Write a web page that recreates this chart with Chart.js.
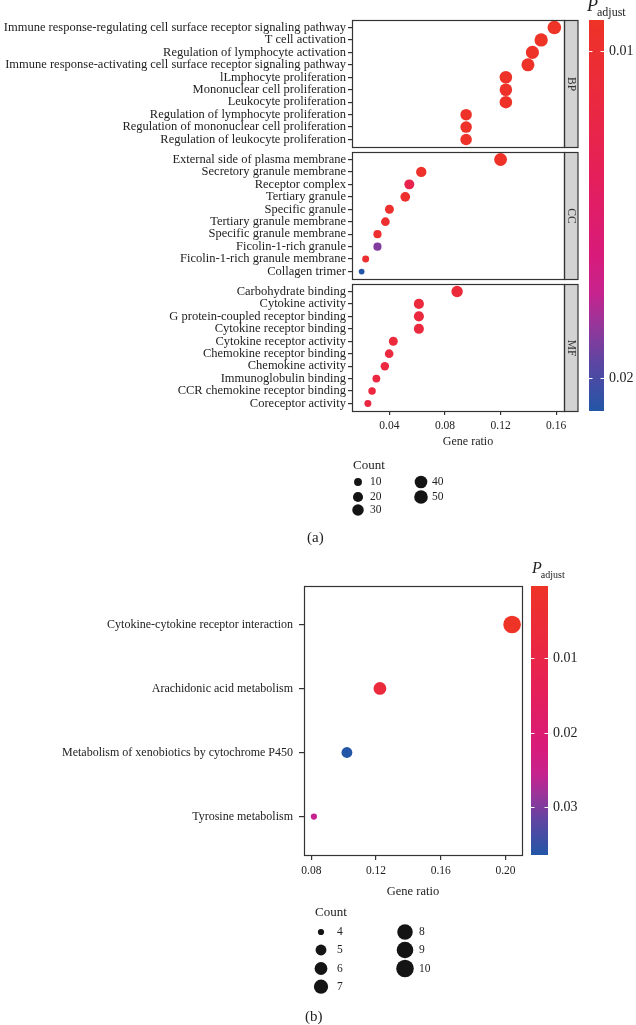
<!DOCTYPE html>
<html>
<head>
<meta charset="utf-8">
<script src="https://cdn.jsdelivr.net/npm/chart.js@4.4.0/dist/chart.umd.min.js"></script>
<style>
  body { margin: 0; background: #fff; }
  .wrap { position: relative; width: 636px; height: 1025px; overflow: hidden; }
  .panel { position: absolute; left: 0; width: 636px; }
</style>
</head>
<body>
<div class="wrap">
  <div class="panel" style="top:0;height:560px"><canvas id="chartA"></canvas></div>
  <div class="panel" style="top:560px;height:465px"><canvas id="chartB"></canvas></div>
</div>
<script>
// ---- panel (a): GO enrichment ----
var bpTerms = [
  "Immune response-regulating cell surface receptor signaling pathway",
  "T cell activation",
  "Regulation of lymphocyte activation",
  "Immune response-activating cell surface receptor signaling pathway",
  "lLmphocyte proliferation",
  "Mononuclear cell proliferation",
  "Leukocyte proliferation",
  "Regulation of lymphocyte proliferation",
  "Regulation of mononuclear cell proliferation",
  "Regulation of leukocyte proliferation"
];
var bpRatio = [0.1587, 0.1492, 0.1429, 0.1397, 0.1238, 0.1238, 0.1238, 0.0952, 0.0952, 0.0952];
var bpCount = [50, 47, 45, 44, 39, 39, 39, 30, 30, 30];
var bpPadj  = [0.00905, 0.0091, 0.0092, 0.0092, 0.0093, 0.0093, 0.0093, 0.0094, 0.0094, 0.0094];

var ccTerms = [
  "External side of plasma membrane",
  "Secretory granule membrane",
  "Receptor complex",
  "Tertiary granule",
  "Specific granule",
  "Tertiary granule membrane",
  "Specific granule membrane",
  "Ficolin-1-rich granule",
  "Ficolin-1-rich granule membrane",
  "Collagen trimer"
];
var ccRatio = [0.1200, 0.0629, 0.0543, 0.0514, 0.0400, 0.0371, 0.0314, 0.0314, 0.0229, 0.0200];
var ccCount = [42, 22, 19, 18, 14, 13, 11, 11, 8, 7];
var ccPadj  = [0.0092, 0.0095, 0.0128, 0.0098, 0.0097, 0.0099, 0.0100, 0.0188, 0.0101, 0.0210];

var mfTerms = [
  "Carbohydrate binding",
  "Cytokine activity",
  "G protein-coupled receptor binding",
  "Cytokine receptor binding",
  "Cytokine receptor activity",
  "Chemokine receptor binding",
  "Chemokine activity",
  "Immunoglobulin binding",
  "CCR chemokine receptor binding",
  "Coreceptor activity"
];
var mfRatio = [0.0887, 0.0612, 0.0612, 0.0612, 0.0428, 0.0398, 0.0367, 0.0306, 0.0275, 0.0245];
var mfCount = [29, 20, 20, 20, 14, 13, 12, 10, 9, 8];
var mfPadj  = [0.0110, 0.0113, 0.0114, 0.0114, 0.0112, 0.0115, 0.0116, 0.0117, 0.0116, 0.0118];

var facetNames = ["BP", "CC", "MF"];
var ratioTicksA = [0.04, 0.08, 0.12, 0.16];
var padjTicksA = [0.01, 0.02];
var countBreaksA = [10, 20, 30, 40, 50];

// ---- panel (b): KEGG ----
var keggTerms = [
  "Cytokine-cytokine receptor interaction",
  "Arachidonic acid metabolism",
  "Metabolism of xenobiotics by cytochrome P450",
  "Tyrosine metabolism"
];
var keggRatio = [0.2041, 0.1224, 0.1020, 0.0816];
var keggCount = [10, 6, 5, 4];
var keggPadj  = [0.00027, 0.0068, 0.0364, 0.0255];

var ratioTicksB = [0.08, 0.12, 0.16, 0.20];
var padjTicksB = [0.01, 0.02, 0.03];
var countBreaksB = [4, 5, 6, 7, 8, 9, 10];

// ---- helpers ----
var serif = "'Liberation Serif', 'DejaVu Serif', serif";
var ink = "#222";

var gradStops = [
  [0.00, [238, 51, 39]],
  [0.20, [235, 41, 62]],
  [0.40, [228, 31, 90]],
  [0.60, [216, 27, 122]],
  [0.70, [198, 35, 142]],
  [0.78, [151, 54, 154]],
  [0.88, [90, 70, 162]],
  [1.00, [35, 86, 166]]
];
function gradColor(t) {
  t = Math.max(0, Math.min(1, t));
  for (var i = 1; i < gradStops.length; i++) {
    if (t <= gradStops[i][0]) {
      var a = gradStops[i - 1], b = gradStops[i];
      var f = (t - a[0]) / (b[0] - a[0]);
      var c = a[1].map(function (v, k) { return Math.round(v + (b[1][k] - v) * f); });
      return "rgb(" + c.join(",") + ")";
    }
  }
  return "rgb(" + gradStops[gradStops.length - 1][1].join(",") + ")";
}
function minOf(a) { return Math.min.apply(null, a); }
function maxOf(a) { return Math.max.apply(null, a); }
function expand(a) { var lo = minOf(a), hi = maxOf(a), d = (hi - lo) * 0.05; return [lo - d, hi + d]; }
function sizer(counts, rMin, rMax) {
  var lo = minOf(counts), hi = maxOf(counts);
  return function (c) { return rMin + Math.sqrt((c - lo) / (hi - lo)) * (rMax - rMin); };
}

function drawColorbar(ctx, o) {
  var g = ctx.createLinearGradient(0, o.top, 0, o.bottom);
  gradStops.forEach(function (s) { g.addColorStop(s[0], "rgb(" + s[1].join(",") + ")"); });
  ctx.fillStyle = g;
  ctx.fillRect(o.x, o.top, o.w, o.bottom - o.top);
  ctx.font = "14px " + serif;
  ctx.textAlign = "left";
  ctx.textBaseline = "middle";
  o.ticks.forEach(function (p) {
    var y = Math.round(o.top + (p - o.pmin) / (o.pmax - o.pmin) * (o.bottom - o.top)) + 0.5;
    ctx.strokeStyle = "#fff";
    ctx.lineWidth = 1;
    ctx.beginPath();
    ctx.moveTo(o.x, y); ctx.lineTo(o.x + 3.5, y);
    ctx.moveTo(o.x + o.w - 3.5, y); ctx.lineTo(o.x + o.w, y);
    ctx.stroke();
    ctx.fillStyle = ink;
    ctx.fillText(p.toFixed(2), o.x + o.w + 5, y);
  });
  // title P_adjust
  ctx.textBaseline = "alphabetic";
  ctx.font = "italic " + o.pSize + "px " + serif;
  ctx.fillText("P", o.titleX, o.titleY);
  var pw = ctx.measureText("P").width;
  ctx.font = o.subSize + "px " + serif;
  ctx.fillText("adjust", o.titleX + pw - 1, o.titleY + o.subSize * 0.45);
}

function drawSizeLegend(ctx, o) {
  ctx.textAlign = "left";
  ctx.textBaseline = "middle";
  ctx.fillStyle = ink;
  ctx.font = "13px " + serif;
  ctx.fillText("Count", o.titleX, o.titleY);
  o.breaks.forEach(function (v, i) {
    var col = i < o.perCol ? 0 : 1, row = i % o.perCol;
    ctx.beginPath();
    ctx.arc(o.colX[col], o.rowY[row], o.size(v), 0, Math.PI * 2);
    ctx.fillStyle = "#141414";
    ctx.fill();
    ctx.fillStyle = ink;
    ctx.font = "11.5px " + serif;
    ctx.fillText(String(v), o.labelX[col], o.rowY[row]);
  });
}

// ---- chart (a) data ----
var facets = [
  { terms: bpTerms, ratio: bpRatio, count: bpCount, padj: bpPadj },
  { terms: ccTerms, ratio: ccRatio, count: ccCount, padj: ccPadj },
  { terms: mfTerms, ratio: mfRatio, count: mfCount, padj: mfPadj }
];
var facetGap = 0.4;
var allRatioA = bpRatio.concat(ccRatio, mfRatio);
var allCountA = bpCount.concat(ccCount, mfCount);
var allPadjA = bpPadj.concat(ccPadj, mfPadj);
var pminA = minOf(allPadjA), pmaxA = maxOf(allPadjA);
var sizeA = sizer(allCountA, 2.9, 6.8);
var xLimA = expand(allRatioA);

var rowsA = [], labelsA = [], pointsA = [], colorsA = [];
facets.forEach(function (f, k) {
  var off = k * (f.terms.length + 0.2 + facetGap);
  f.top = off - 0.6;
  f.bottom = off + f.terms.length - 0.4;
  f.name = facetNames[k];
  f.terms.forEach(function (t, i) {
    rowsA.push(off + i);
    labelsA.push(t);
    pointsA.push({ x: f.ratio[i], y: off + i, r: sizeA(f.count[i]) });
    colorsA.push(gradColor((f.padj[i] - pminA) / (pmaxA - pminA)));
  });
});
var yMaxA = facets[2].bottom;

var decorA = {
  id: "decorA",
  afterDraw: function (chart) {
    var ctx = chart.ctx, area = chart.chartArea, ys = chart.scales.y;
    ctx.save();
    facets.forEach(function (f) {
      var t = Math.round(ys.getPixelForValue(f.top)) + 0.5;
      var b = Math.round(ys.getPixelForValue(f.bottom)) + 0.5;
      var l = Math.round(area.left) + 0.5, r = Math.round(area.right) + 0.5;
      ctx.fillStyle = "#d3d3d3";
      ctx.fillRect(r, t, 13.5, b - t);
      ctx.strokeStyle = "#333";
      ctx.lineWidth = 1.2;
      ctx.strokeRect(l, t, r - l, b - t);
      ctx.strokeRect(r, t, 13.5, b - t);
      ctx.save();
      ctx.translate(r + 6.75, (t + b) / 2);
      ctx.rotate(Math.PI / 2);
      ctx.fillStyle = "#333";
      ctx.font = "11.5px " + serif;
      ctx.textAlign = "center";
      ctx.textBaseline = "middle";
      ctx.fillText(f.name, 0, 0);
      ctx.restore();
    });
    drawColorbar(ctx, {
      x: 589, w: 15, top: area.top, bottom: area.bottom,
      pmin: pminA, pmax: pmaxA, ticks: padjTicksA,
      titleX: 587, titleY: 11, pSize: 18, subSize: 12
    });
    ctx.fillStyle = ink;
    ctx.font = "12px " + serif;
    ctx.textAlign = "center";
    ctx.textBaseline = "middle";
    ctx.fillText("Gene ratio", 468, 442);
    drawSizeLegend(ctx, {
      titleX: 353, titleY: 466, breaks: countBreaksA, perCol: 3,
      colX: [358, 421], labelX: [370, 432], rowY: [482, 497, 510], size: sizeA
    });
    ctx.fillStyle = ink;
    ctx.font = "15px " + serif;
    ctx.textAlign = "left";
    ctx.textBaseline = "middle";
    ctx.fillText("(a)", 307, 538);
    ctx.restore();
  }
};

new Chart(document.getElementById("chartA"), {
  type: "bubble",
  data: { datasets: [{ data: pointsA, backgroundColor: colorsA, borderWidth: 0, hoverRadius: 0 }] },
  options: {
    responsive: true,
    maintainAspectRatio: false,
    animation: false,
    layout: { padding: { left: 0, top: 20, right: 72, bottom: 111 } },
    plugins: { legend: { display: false }, tooltip: { enabled: false } },
    scales: {
      x: {
        type: "linear", min: xLimA[0], max: xLimA[1],
        afterBuildTicks: function (s) { s.ticks = ratioTicksA.map(function (v) { return { value: v }; }); },
        afterFit: function (s) { s.height = 38; },
        grid: { drawOnChartArea: false, drawTicks: true, tickLength: 4, tickColor: "#333", lineWidth: 1.2 },
        border: { display: false },
        ticks: { font: { family: serif, size: 11.5 }, color: ink, padding: 4, maxRotation: 0, autoSkip: false,
                 callback: function (v) { return v.toFixed(2); } }
      },
      y: {
        type: "linear", min: -0.6, max: yMaxA, reverse: true,
        afterBuildTicks: function (s) { s.ticks = rowsA.map(function (v) { return { value: v }; }); },
        afterFit: function (s) { s.width = 352; },
        grid: { drawOnChartArea: false, drawTicks: true, tickLength: 4, tickColor: "#333", lineWidth: 1.2 },
        border: { display: false },
        ticks: { font: { family: serif, size: 12.5 }, color: ink, padding: 2, autoSkip: false,
                 callback: function (v, i) { return labelsA[i]; } }
      }
    }
  },
  plugins: [decorA]
});

// ---- chart (b) ----
var pminB = minOf(keggPadj), pmaxB = maxOf(keggPadj);
var sizeB = sizer(keggCount, 3.1, 8.8);
var xLimB = expand(keggRatio);
var rowsB = keggTerms.map(function (t, i) { return i; });
var pointsB = keggTerms.map(function (t, i) { return { x: keggRatio[i], y: i, r: sizeB(keggCount[i]) }; });
var colorsB = keggPadj.map(function (p) { return gradColor((p - pminB) / (pmaxB - pminB)); });

var decorB = {
  id: "decorB",
  afterDraw: function (chart) {
    var ctx = chart.ctx, area = chart.chartArea;
    ctx.save();
    var l = Math.round(area.left) + 0.5, r = Math.round(area.right) + 0.5;
    var t = Math.round(area.top) + 0.5, b = Math.round(area.bottom) + 0.5;
    ctx.strokeStyle = "#333";
    ctx.lineWidth = 1.2;
    ctx.strokeRect(l, t, r - l, b - t);
    drawColorbar(ctx, {
      x: 531, w: 17, top: area.top, bottom: area.bottom,
      pmin: pminB, pmax: pmaxB, ticks: padjTicksB,
      titleX: 532, titleY: 13, pSize: 16, subSize: 10
    });
    ctx.fillStyle = ink;
    ctx.font = "12.5px " + serif;
    ctx.textAlign = "center";
    ctx.textBaseline = "middle";
    ctx.fillText("Gene ratio", (area.left + area.right) / 2, 332);
    drawSizeLegend(ctx, {
      titleX: 315, titleY: 353, breaks: countBreaksB, perCol: 4,
      colX: [321, 405], labelX: [337, 419], rowY: [372, 390, 408.5, 426.7], size: sizeB
    });
    ctx.fillStyle = ink;
    ctx.font = "15px " + serif;
    ctx.textAlign = "left";
    ctx.textBaseline = "middle";
    ctx.fillText("(b)", 305, 457);
    ctx.restore();
  }
};

new Chart(document.getElementById("chartB"), {
  type: "bubble",
  data: { datasets: [{ data: pointsB, backgroundColor: colorsB, borderWidth: 0, hoverRadius: 0 }] },
  options: {
    responsive: true,
    maintainAspectRatio: false,
    animation: false,
    layout: { padding: { left: 0, top: 26, right: 114, bottom: 132 } },
    plugins: { legend: { display: false }, tooltip: { enabled: false } },
    scales: {
      x: {
        type: "linear", min: xLimB[0], max: xLimB[1],
        afterBuildTicks: function (s) { s.ticks = ratioTicksB.map(function (v) { return { value: v }; }); },
        afterFit: function (s) { s.height = 38; },
        grid: { drawOnChartArea: false, drawTicks: true, tickLength: 5, tickColor: "#333", lineWidth: 1.2 },
        border: { display: false },
        ticks: { font: { family: serif, size: 11.5 }, color: ink, padding: 4, maxRotation: 0, autoSkip: false,
                 callback: function (v) { return v.toFixed(2); } }
      },
      y: {
        type: "linear", min: -0.6, max: keggTerms.length - 0.4, reverse: true,
        afterBuildTicks: function (s) { s.ticks = rowsB.map(function (v) { return { value: v }; }); },
        afterFit: function (s) { s.width = 304; },
        grid: { drawOnChartArea: false, drawTicks: true, tickLength: 5, tickColor: "#333", lineWidth: 1.2 },
        border: { display: false },
        ticks: { font: { family: serif, size: 12 }, color: ink, padding: 6, autoSkip: false,
                 callback: function (v, i) { return keggTerms[i]; } }
      }
    }
  },
  plugins: [decorB]
});
</script>
</body>
</html>
